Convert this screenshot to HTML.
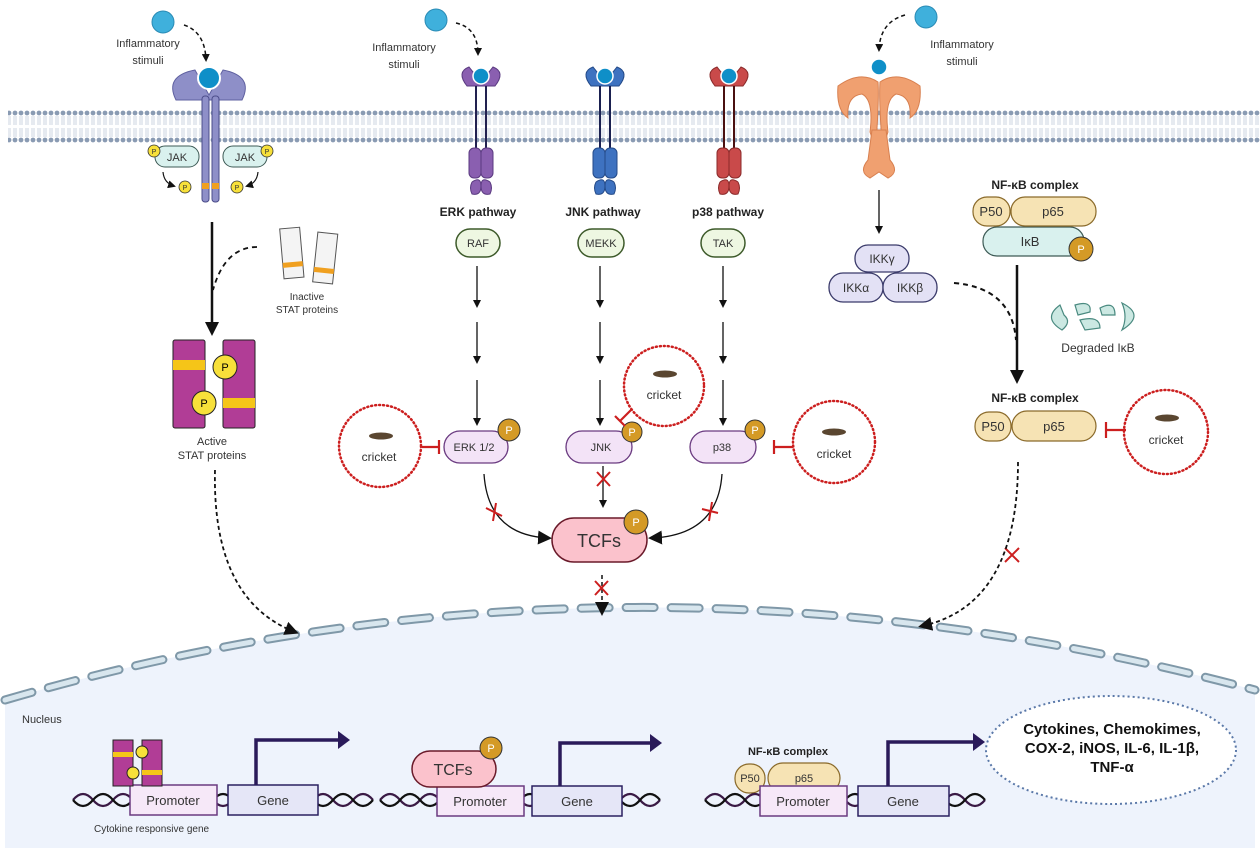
<!DOCTYPE html>
<html><head><meta charset="utf-8"><style>
body{margin:0;background:#fff}
svg{display:block;font-family:"Liberation Sans",sans-serif}
</style></head><body>
<svg width="1260" height="854" viewBox="0 0 1260 854" xmlns="http://www.w3.org/2000/svg">
<defs>
<marker id="ah" markerWidth="8" markerHeight="8" refX="6" refY="4" orient="auto" markerUnits="userSpaceOnUse"><path d="M0,0 L8,4 L0,8 z" fill="#111"/></marker>
<marker id="ahb" markerWidth="14" markerHeight="14" refX="10" refY="7" orient="auto" markerUnits="userSpaceOnUse"><path d="M0,0 L14,7 L0,14 z" fill="#111"/></marker>
<pattern id="mem" x="0" y="109" width="6" height="34" patternUnits="userSpaceOnUse"><circle cx="3" cy="4" r="2.4" fill="#8a9bb3"/><circle cx="3" cy="31" r="2.4" fill="#8a9bb3"/><path d="M2,7 L2,16 M4,7 L4,16 M2,19 L2,28 M4,19 L4,28" stroke="#b7c4d6" stroke-width="0.7"/></pattern>
</defs>
<!-- nucleus -->
<path d="M5,700 Q620,520 1255,690 L1255,848 L5,848 Z" fill="#eef3fc"/>
<path d="M5,700 Q620,520 1255,690" fill="none" stroke="#7f98a8" stroke-width="9" stroke-dasharray="28,17" stroke-linecap="round"/>
<path d="M5,700 Q620,520 1255,690" fill="none" stroke="#d8e6ee" stroke-width="5" stroke-dasharray="28,17" stroke-linecap="round"/>
<!-- membrane -->
<rect x="8" y="109" width="1252" height="34" fill="url(#mem)"/>
<!-- stimuli -->
<g fill="#3fb0dc" stroke="#2a8bb5"><circle cx="163" cy="22" r="11"/><circle cx="436" cy="20" r="11"/><circle cx="926" cy="17" r="11"/></g>
<g font-size="11" fill="#333" text-anchor="middle"><text x="148" y="47">Inflammatory</text><text x="148" y="64">stimuli</text>
<text x="404" y="51">Inflammatory</text><text x="404" y="68">stimuli</text>
<text x="962" y="48">Inflammatory</text><text x="962" y="65">stimuli</text></g>
<g fill="none" stroke="#111" stroke-width="1.5" stroke-dasharray="4,3" marker-end="url(#ah)">
<path d="M184,25 Q205,32 206,60"/><path d="M456,23 Q478,28 478,54"/><path d="M905,15 Q880,22 879,50"/></g>
<!-- JAK receptor -->
<path d="M176,100 Q164,76 195,70 L209,95 L223,70 Q254,76 242,100 Z" fill="#8e8fc8" stroke="#5f60a0"/>
<rect x="202" y="96" width="7" height="106" rx="3" fill="#8e8fc8" stroke="#4b4c8a"/>
<rect x="212" y="96" width="7" height="106" rx="3" fill="#8e8fc8" stroke="#4b4c8a"/>
<circle cx="209" cy="78" r="11" fill="#0f8fc8" stroke="#fff" stroke-width="2"/>
<rect x="202" y="183" width="7" height="6" fill="#f0a020"/><rect x="212" y="183" width="7" height="6" fill="#f0a020"/>
<rect x="155" y="146" width="44" height="21" rx="10" fill="#d9f1ee" stroke="#3d5a55"/><text x="177" y="161" font-size="11" text-anchor="middle" fill="#333">JAK</text>
<rect x="223" y="146" width="44" height="21" rx="10" fill="#d9f1ee" stroke="#3d5a55"/><text x="245" y="161" font-size="11" text-anchor="middle" fill="#333">JAK</text>
<g fill="#f7e03a" stroke="#333" stroke-width="0.8"><circle cx="154" cy="151" r="6"/><circle cx="267" cy="151" r="6"/><circle cx="185" cy="187" r="6"/><circle cx="237" cy="187" r="6"/></g>
<g font-size="7" text-anchor="middle" fill="#333"><text x="154" y="154">P</text><text x="267" y="154">P</text><text x="185" y="190">P</text><text x="237" y="190">P</text></g>
<path d="M163,172 Q164,183 174,186" fill="none" stroke="#111" stroke-width="1.2" marker-end="url(#ah)"/>
<path d="M258,172 Q257,183 247,186" fill="none" stroke="#111" stroke-width="1.2" marker-end="url(#ah)"/>
<!-- STAT -->
<line x1="212" y1="222" x2="212" y2="332" stroke="#111" stroke-width="2.5" marker-end="url(#ahb)"/>
<path d="M257,247 Q225,247 213,290" fill="none" stroke="#111" stroke-width="1.8" stroke-dasharray="5,4"/>
<g transform="rotate(-5 292 255)"><rect x="282" y="228" width="20" height="50" fill="#f4f4f4" stroke="#555"/><rect x="282" y="262" width="20" height="5" fill="#f0a020"/></g>
<g transform="rotate(6 325 260)"><rect x="315" y="233" width="20" height="50" fill="#f4f4f4" stroke="#555"/><rect x="315" y="268" width="20" height="5" fill="#f0a020"/></g>
<text x="307" y="300" font-size="10" text-anchor="middle" fill="#333">Inactive</text><text x="307" y="313" font-size="10" text-anchor="middle" fill="#333">STAT proteins</text>
<rect x="173" y="340" width="32" height="88" rx="2" fill="#b13d96" stroke="#222"/>
<rect x="223" y="340" width="32" height="88" rx="2" fill="#b13d96" stroke="#222"/>
<rect x="173" y="360" width="32" height="10" fill="#f5c518"/><rect x="223" y="398" width="32" height="10" fill="#f5c518"/>
<circle cx="225" cy="367" r="12" fill="#f7e03a" stroke="#222"/><circle cx="204" cy="403" r="12" fill="#f7e03a" stroke="#222"/>
<text x="225" y="371" font-size="11" text-anchor="middle">P</text><text x="204" y="407" font-size="11" text-anchor="middle">P</text>
<text x="212" y="445" font-size="11" text-anchor="middle" fill="#333">Active</text><text x="212" y="459" font-size="11" text-anchor="middle" fill="#333">STAT proteins</text>
<path d="M215,470 Q212,600 295,632" fill="none" stroke="#111" stroke-width="1.8" stroke-dasharray="4,3" marker-end="url(#ahb)"/>
<!-- MAPK receptors -->
<g>
<path d="M467,86 Q456,72 469,67 L481,82 L493,67 Q506,72 495,86 Z" fill="#8a5fb0" stroke="#5a3a80"/>
<path d="M591,86 Q580,72 593,67 L605,82 L617,67 Q630,72 619,86 Z" fill="#3e72c0" stroke="#244a88"/>
<path d="M715,86 Q704,72 717,67 L729,82 L741,67 Q754,72 743,86 Z" fill="#c94a4a" stroke="#8a2a2a"/>
<g stroke-width="2"><path d="M476,86 V150 M486,86 V150" stroke="#222150"/><path d="M600,86 V150 M610,86 V150" stroke="#1a2050"/><path d="M724,86 V150 M734,86 V150" stroke="#4a1010"/></g>
<g stroke-width="1"><rect x="469" y="148" width="12" height="30" rx="5" fill="#8a5fb0" stroke="#5a3a80"/><rect x="481" y="148" width="12" height="30" rx="5" fill="#8a5fb0" stroke="#5a3a80"/>
<rect x="593" y="148" width="12" height="30" rx="5" fill="#3e72c0" stroke="#244a88"/><rect x="605" y="148" width="12" height="30" rx="5" fill="#3e72c0" stroke="#244a88"/>
<rect x="717" y="148" width="12" height="30" rx="5" fill="#c94a4a" stroke="#8a2a2a"/><rect x="729" y="148" width="12" height="30" rx="5" fill="#c94a4a" stroke="#8a2a2a"/></g>
<g stroke-width="1"><path d="M472,182 Q481,176 481,186 Q481,196 472,194 Q469,188 472,182 M490,182 Q481,176 481,186 Q481,196 490,194 Q493,188 490,182" fill="#8a5fb0" stroke="#5a3a80"/>
<path d="M596,182 Q605,176 605,186 Q605,196 596,194 Q593,188 596,182 M614,182 Q605,176 605,186 Q605,196 614,194 Q617,188 614,182" fill="#3e72c0" stroke="#244a88"/>
<path d="M720,182 Q729,176 729,186 Q729,196 720,194 Q717,188 720,182 M738,182 Q729,176 729,186 Q729,196 738,194 Q741,188 738,182" fill="#c94a4a" stroke="#8a2a2a"/></g>
<g fill="#0f8fc8" stroke="#fff" stroke-width="1.5"><circle cx="481" cy="76" r="8"/><circle cx="605" cy="76" r="8"/><circle cx="729" cy="76" r="8"/></g>
</g>
<g font-size="12" font-weight="bold" text-anchor="middle" fill="#222"><text x="478" y="216">ERK pathway</text><text x="603" y="216">JNK pathway</text><text x="728" y="216">p38 pathway</text></g>
<g fill="#eef7e2" stroke="#3d5a2a" stroke-width="1.5"><rect x="456" y="229" width="44" height="28" rx="14"/><rect x="578" y="229" width="46" height="28" rx="14"/><rect x="701" y="229" width="44" height="28" rx="14"/></g>
<g font-size="11" text-anchor="middle" fill="#333"><text x="478" y="247">RAF</text><text x="601" y="247">MEKK</text><text x="723" y="247">TAK</text></g>
<g stroke="#111" stroke-width="1.3">
<line x1="477" y1="266" x2="477" y2="306" marker-end="url(#ah)"/><line x1="477" y1="322" x2="477" y2="362" marker-end="url(#ah)"/><line x1="477" y1="380" x2="477" y2="424" marker-end="url(#ah)"/>
<line x1="600" y1="266" x2="600" y2="306" marker-end="url(#ah)"/><line x1="600" y1="322" x2="600" y2="362" marker-end="url(#ah)"/><line x1="600" y1="380" x2="600" y2="424" marker-end="url(#ah)"/>
<line x1="723" y1="266" x2="723" y2="306" marker-end="url(#ah)"/><line x1="723" y1="322" x2="723" y2="362" marker-end="url(#ah)"/><line x1="723" y1="380" x2="723" y2="424" marker-end="url(#ah)"/>
</g>
<!-- kinases -->
<g fill="#f3e3f7" stroke="#6a3a80" stroke-width="1.3"><rect x="444" y="431" width="64" height="32" rx="16"/><rect x="566" y="431" width="66" height="32" rx="16"/><rect x="690" y="431" width="66" height="32" rx="16"/></g>
<g font-size="11" text-anchor="middle" fill="#333"><text x="474" y="451">ERK 1/2</text><text x="601" y="451">JNK</text><text x="722" y="451">p38</text></g>
<g fill="#d49a26" stroke="#333"><circle cx="509" cy="430" r="11"/><circle cx="632" cy="432" r="10"/><circle cx="755" cy="430" r="10"/></g>
<g font-size="11" text-anchor="middle" fill="#fff"><text x="509" y="434">P</text><text x="632" y="436">P</text><text x="755" y="434">P</text></g>
<!-- crickets -->
<g fill="#fff" stroke="#cc1f1f" stroke-width="2.5" stroke-dasharray="1,3" stroke-linecap="round"><circle cx="380" cy="446" r="41"/><circle cx="664" cy="386" r="40"/><circle cx="834" cy="442" r="41"/><circle cx="1166" cy="432" r="42"/></g>
<g fill="#5a4630"><ellipse cx="381" cy="436" rx="12" ry="3.5"/><ellipse cx="665" cy="374" rx="12" ry="3.5"/><ellipse cx="834" cy="432" rx="12" ry="3.5"/><ellipse cx="1167" cy="418" rx="12" ry="3.5"/></g>
<g font-size="12" text-anchor="middle" fill="#333"><text x="379" y="461">cricket</text><text x="664" y="399">cricket</text><text x="834" y="458">cricket</text><text x="1166" y="444">cricket</text></g>
<g stroke="#cc1f1f" stroke-width="2.2" fill="none"><path d="M422,447 H439 M439,440 V454"/><path d="M632,409 L620,421 M615,416 L625,426"/><path d="M793,447 H774 M774,440 V454"/><path d="M1126,430 H1106 M1106,422 V438"/></g>
<!-- TCFs -->
<rect x="552" y="518" width="95" height="44" rx="22" fill="#fbc2cc" stroke="#6a1a2a" stroke-width="1.5"/>
<text x="599" y="547" font-size="18" text-anchor="middle" fill="#333">TCFs</text>
<circle cx="636" cy="522" r="12" fill="#d49a26" stroke="#333"/><text x="636" y="526" font-size="11" text-anchor="middle" fill="#fff">P</text>
<path d="M484,474 Q488,535 548,538" fill="none" stroke="#111" stroke-width="1.3" marker-end="url(#ahb)"/>
<path d="M722,474 Q718,535 652,538" fill="none" stroke="#111" stroke-width="1.3" marker-end="url(#ahb)"/>
<line x1="603" y1="466" x2="603" y2="506" stroke="#111" stroke-width="1.3" marker-end="url(#ah)"/>
<line x1="602" y1="575" x2="602" y2="612" stroke="#111" stroke-width="1.5" stroke-dasharray="4,3" marker-end="url(#ahb)"/>
<g stroke="#cc1f1f" stroke-width="2"><path d="M597,472 L610,486 M610,472 L597,486"/><path d="M595,581 L608,595 M608,581 L595,595"/><path d="M486,508 L502,516 M496,503 L493,521"/><path d="M702,509 L718,513 M712,502 L709,521"/><path d="M1005,548 L1019,562 M1019,548 L1005,562"/></g>
<!-- TLR -->
<path d="M838,86 Q836,110 848,118 Q846,96 862,94 Q874,100 870,132 L876,150 L877,128 Q879,96 878,82 Q860,70 838,86 Z" fill="#f0a070" stroke="#d88050"/>
<path d="M920,86 Q922,110 910,118 Q912,96 896,94 Q884,100 888,132 L882,150 L881,128 Q879,96 880,82 Q898,70 920,86 Z" fill="#f0a070" stroke="#d88050"/>
<path d="M872,130 L868,160 Q858,172 870,178 L879,172 L888,178 Q900,172 890,160 L886,130 Z" fill="#f0a070" stroke="#d88050"/>
<circle cx="879" cy="67" r="8" fill="#0f8fc8" stroke="#fff" stroke-width="1.5"/>
<line x1="879" y1="190" x2="879" y2="232" stroke="#111" stroke-width="1.3" marker-end="url(#ah)"/>
<g fill="#e3e1f5" stroke="#3a3a6a" stroke-width="1.3"><rect x="855" y="245" width="54" height="27" rx="13"/><rect x="829" y="273" width="54" height="29" rx="14"/><rect x="883" y="273" width="54" height="29" rx="14"/></g>
<g font-size="12" text-anchor="middle" fill="#333"><text x="882" y="263">IKKγ</text><text x="856" y="292">IKKα</text><text x="910" y="292">IKKβ</text></g>
<path d="M954,283 Q1012,288 1016,340" fill="none" stroke="#111" stroke-width="2" stroke-dasharray="5,4"/>
<!-- NF-kB -->
<g font-size="12" font-weight="bold" text-anchor="middle" fill="#222"><text x="1035" y="189">NF-κB complex</text><text x="1035" y="402">NF-κB complex</text><text x="788" y="755" font-size="11">NF-κB complex</text></g>
<rect x="983" y="227" width="101" height="29" rx="14" fill="#d9f1ee" stroke="#3d5a55" stroke-width="1.2"/>
<text x="1030" y="246" font-size="13" text-anchor="middle" fill="#333">IκB</text>
<circle cx="1081" cy="249" r="12" fill="#d49a26" stroke="#333"/><text x="1081" y="253" font-size="11" text-anchor="middle" fill="#fff">P</text>
<g fill="#f6e3b4" stroke="#8a6a2a" stroke-width="1.2"><rect x="973" y="197" width="37" height="29" rx="14"/><rect x="1011" y="197" width="85" height="29" rx="14"/><rect x="975" y="412" width="36" height="29" rx="14"/><rect x="1012" y="411" width="84" height="30" rx="15"/><rect x="735" y="764" width="30" height="29" rx="14"/><rect x="768" y="763" width="72" height="30" rx="15"/></g>
<g font-size="13" text-anchor="middle" fill="#333"><text x="991" y="216">P50</text><text x="1053" y="216">p65</text><text x="993" y="431">P50</text><text x="1054" y="431">p65</text><text x="750" y="782" font-size="11">P50</text><text x="804" y="782" font-size="11">p65</text></g>
<line x1="1017" y1="265" x2="1017" y2="380" stroke="#111" stroke-width="2.5" marker-end="url(#ahb)"/>
<g fill="#cbe8e2" stroke="#4a8a80" stroke-width="1.2"><path d="M1060,305 Q1042,318 1062,330 Q1072,322 1064,315 Z"/><path d="M1075,305 Q1092,300 1090,312 L1078,315 Z"/><path d="M1080,320 Q1100,315 1100,328 L1085,330 Z"/><path d="M1100,308 Q1115,300 1115,315 L1102,315 Z"/><path d="M1122,303 Q1146,315 1122,330 Q1128,317 1122,303 Z"/></g>
<text x="1098" y="352" font-size="12" text-anchor="middle" fill="#333">Degraded IκB</text>
<path d="M1018,462 Q1018,605 922,626" fill="none" stroke="#111" stroke-width="1.8" stroke-dasharray="4,3" marker-end="url(#ahb)"/>
<!-- nucleus contents -->
<text x="22" y="723" font-size="11" fill="#333">Nucleus</text>
<g fill="none" stroke-width="2.2">
<path d="M73,800 q10,-12 20,0 t20,0 t20,0 t20,0 t20,0 t20,0 t20,0 t20,0 t20,0 t20,0 t20,0 t20,0 t20,0 t20,0 t20,0" stroke="#3a1a45"/>
<path d="M73,800 q10,12 20,0 t20,0 t20,0 t20,0 t20,0 t20,0 t20,0 t20,0 t20,0 t20,0 t20,0 t20,0 t20,0 t20,0 t20,0" stroke="#111"/>
<path d="M380,800 q10,-12 20,0 t20,0 t20,0 t20,0 t20,0 t20,0 t20,0 t20,0 t20,0 t20,0 t20,0 t20,0 t20,0 t20,0" stroke="#3a1a45"/>
<path d="M380,800 q10,12 20,0 t20,0 t20,0 t20,0 t20,0 t20,0 t20,0 t20,0 t20,0 t20,0 t20,0 t20,0 t20,0 t20,0" stroke="#111"/>
<path d="M705,800 q10,-12 20,0 t20,0 t20,0 t20,0 t20,0 t20,0 t20,0 t20,0 t20,0 t20,0 t20,0 t20,0 t20,0 t20,0" stroke="#3a1a45"/>
<path d="M705,800 q10,12 20,0 t20,0 t20,0 t20,0 t20,0 t20,0 t20,0 t20,0 t20,0 t20,0 t20,0 t20,0 t20,0 t20,0" stroke="#111"/>
</g>
<g fill="#f6e8f8" stroke="#6a3a80" stroke-width="1.5"><rect x="130" y="785" width="87" height="30"/><rect x="437" y="786" width="87" height="30"/><rect x="760" y="786" width="87" height="30"/></g>
<g fill="#e5e6f7" stroke="#2a2060" stroke-width="1.5"><rect x="228" y="785" width="90" height="30"/><rect x="532" y="786" width="90" height="30"/><rect x="858" y="786" width="91" height="30"/></g>
<g font-size="13" text-anchor="middle" fill="#333"><text x="173" y="805">Promoter</text><text x="273" y="805">Gene</text><text x="480" y="806">Promoter</text><text x="577" y="806">Gene</text><text x="803" y="806">Promoter</text><text x="903" y="806">Gene</text></g>
<g fill="none" stroke="#2a1a5a" stroke-width="3.5"><path d="M256,785 V740 H340"/><path d="M560,786 V743 H652"/><path d="M888,786 V742 H975"/></g>
<g fill="#2a1a5a"><path d="M338,731 L350,740 L338,749 Z"/><path d="M650,734 L662,743 L650,752 Z"/><path d="M973,733 L985,742 L973,751 Z"/></g>
<text x="94" y="832" font-size="10" fill="#333">Cytokine responsive gene</text>
<rect x="113" y="740" width="20" height="46" fill="#b13d96" stroke="#222"/><rect x="142" y="740" width="20" height="46" fill="#b13d96" stroke="#222"/>
<rect x="113" y="752" width="20" height="5" fill="#f5c518"/><rect x="142" y="770" width="20" height="5" fill="#f5c518"/>
<g fill="#f7e03a" stroke="#222"><circle cx="142" cy="752" r="6"/><circle cx="133" cy="773" r="6"/></g>
<rect x="412" y="751" width="84" height="36" rx="18" fill="#fbc2cc" stroke="#6a1a2a" stroke-width="1.5"/>
<text x="453" y="775" font-size="16" text-anchor="middle" fill="#333">TCFs</text>
<circle cx="491" cy="748" r="11" fill="#d49a26" stroke="#333"/><text x="491" y="752" font-size="11" text-anchor="middle" fill="#fff">P</text>
<ellipse cx="1111" cy="750" rx="125" ry="54" fill="#fff" stroke="#5a78a8" stroke-width="2" stroke-dasharray="2,3"/>
<g font-size="15" font-weight="bold" text-anchor="middle" fill="#111"><text x="1112" y="734">Cytokines, Chemokimes,</text><text x="1112" y="753">COX-2, iNOS, IL-6, IL-1β,</text><text x="1112" y="772">TNF-α</text></g>
</svg>
</body></html>
